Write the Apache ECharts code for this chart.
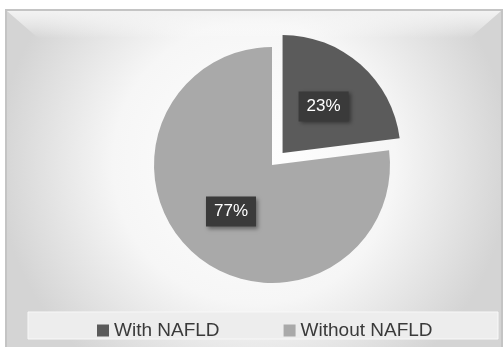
<!DOCTYPE html>
<html><head><meta charset="utf-8">
<script src="https://cdn.jsdelivr.net/npm/echarts@6/dist/echarts.min.js"></script>
<style>html,body{margin:0;padding:0;background:#fff}#c{width:504px;height:347px}</style>
</head><body><div id="c"></div>
<script>
const categories = ['With NAFLD', 'Without NAFLD'];
const values = [23, 77];
const colors = ['#5b5b5b', '#a9a9a9'];

const chart = echarts.init(document.getElementById('c'), null, {renderer: 'canvas'});
chart.setOption({
  animation: false,
  graphic: [
    {type: 'rect', z: -10, shape: {x: 6, y: 10, width: 496, height: 340},
     style: {fill: {type: 'radial', x: 0.5, y: 0.45, r: 0.75,
       colorStops: [{offset: 0, color: '#ffffff'}, {offset: 0.55, color: '#f6f6f6'}, {offset: 1, color: '#d4d4d4'}]},
       stroke: '#c4c4c4', lineWidth: 2}},
    {type: 'polygon', z: -9, shape: {points: [[7, 11], [501, 11], [470, 38], [38, 38]]},
     style: {fill: {type: 'linear', x: 0, y: 0, x2: 0, y2: 1,
       colorStops: [{offset: 0, color: '#f2f2f2'}, {offset: 1, color: 'rgba(255,255,255,0)'}]}}},
    {type: 'rect', z: -8, shape: {x: 28, y: 312, width: 470, height: 27},
     style: {fill: '#ededed', stroke: '#f8f8f8', lineWidth: 1}}
  ],
  legend: {
    data: categories, top: 316, left: 92, itemGap: 64,
    icon: 'rect', itemWidth: 12, itemHeight: 12,
    textStyle: {fontFamily: 'Liberation Sans', fontSize: 19, color: '#3a3a3a', padding: [0, 0, 0, 0]}
  },
  series: [{
    type: 'pie', center: [272, 165], radius: 118, startAngle: 90, clockwise: true,
    selectedMode: 'multiple', selectedOffset: 16,
    data: categories.map((n, i) => ({name: n, value: values[i], selected: i === 0, itemStyle: {color: colors[i]}})),
    label: {
      show: true, position: 'inside', formatter: '{d}%',
      color: '#fff', fontFamily: 'Liberation Sans', fontSize: 17,
      backgroundColor: '#3a3a3a', padding: [7, 8, 6, 8],
      shadowColor: 'rgba(0,0,0,0.4)', shadowBlur: 4, shadowOffsetX: 2, shadowOffsetY: 2
    },
    labelLine: {show: false},
    emphasis: {disabled: true}
  }]
});
</script></body></html>
